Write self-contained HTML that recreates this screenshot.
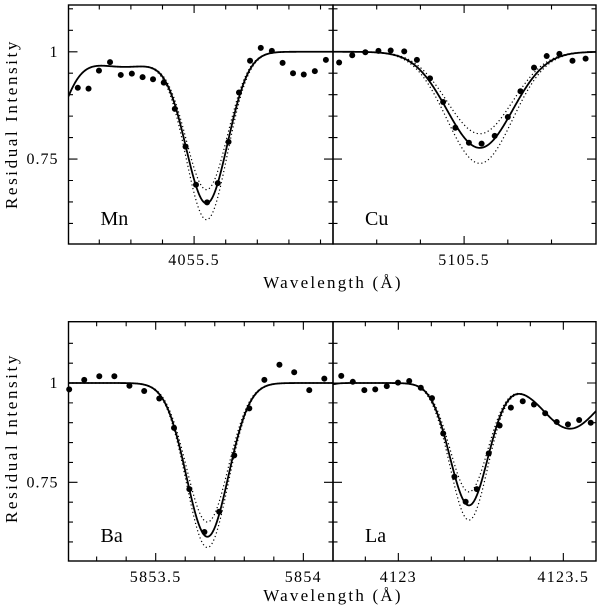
<!DOCTYPE html>
<html><head><meta charset="utf-8">
<style>
html,body{margin:0;padding:0;background:#fff;}
svg{display:block;}
text{font-family:"Liberation Serif","DejaVu Serif",serif;fill:#000;}
</style></head>
<body>
<svg id="fig" width="600" height="605" viewBox="0 0 600 605" xmlns="http://www.w3.org/2000/svg"></svg>
<script>
// ---- Data ----
const mnWave = [4055.132,4055.166,4055.199,4055.234,4055.268,4055.303,4055.337,4055.370,4055.404,4055.439,4055.473,4055.506,4055.541,4055.575,4055.609,4055.642,4055.677,4055.711,4055.746,4055.780,4055.813,4055.847,4055.882,4055.917];
const mnFlux = [0.916,0.914,0.956,0.976,0.946,0.949,0.941,0.936,0.928,0.867,0.779,0.690,0.649,0.694,0.790,0.905,0.979,1.009,1.002,0.974,0.950,0.947,0.955,0.981];
const cuWave = [5105.214,5105.244,5105.274,5105.304,5105.332,5105.363,5105.392,5105.422,5105.452,5105.480,5105.511,5105.540,5105.570,5105.600,5105.629,5105.660,5105.689,5105.718,5105.748,5105.778];
const cuFlux = [0.975,0.992,0.999,1.002,1.003,1.001,0.981,0.938,0.883,0.823,0.788,0.786,0.804,0.848,0.908,0.963,0.990,0.995,0.979,0.984];
const baWave = [5853.207,5853.258,5853.309,5853.360,5853.411,5853.461,5853.512,5853.562,5853.614,5853.665,5853.715,5853.766,5853.817,5853.868,5853.919,5853.969,5854.020,5854.071];
const baFlux = [0.984,1.008,1.017,1.017,0.993,0.980,0.961,0.887,0.733,0.625,0.676,0.818,0.936,1.008,1.046,1.027,0.982,1.011];
const laWave = [4122.827,4122.862,4122.897,4122.930,4122.965,4122.999,4123.033,4123.068,4123.102,4123.136,4123.170,4123.204,4123.238,4123.274,4123.307,4123.341,4123.377,4123.411,4123.445,4123.480,4123.514,4123.548,4123.583];
const laFlux = [1.018,1.003,0.982,0.984,0.992,1.001,1.005,0.988,0.962,0.873,0.764,0.701,0.733,0.823,0.893,0.938,0.954,0.946,0.924,0.902,0.896,0.907,0.900];
// model line components: [center, depth, sigma]; main line depths: best, weaker, stronger
const mnLines = [[4055.0,0.27,0.07],[4055.28,0.035,0.12]];
const mnMain = [4055.54,0.066];
const mnDepths = [0.350,0.318,0.388];
const cuLines = [];
const cuMain = [5105.536,0.075];
const cuDepths = [0.224,0.191,0.260];
const baLines = [];
const baMain = [5853.675,0.071];
const baDepths = [0.387,0.350,0.414];
const laLines = [[4123.52,0.115,0.08],[4122.75,0.015,0.03]];
const laMain = [4123.214,0.0575];
const laDepths = [0.308,0.274,0.345];
// axis ticks
const mnMajor=[4055.5], mnMinor=[4055.2,4055.3,4055.4,4055.6,4055.7,4055.8,4055.9];
const cuMajor=[5105.5], cuMinor=[5105.3,5105.4,5105.6,5105.7];
const baMajor=[5853.5,5854], baMinor=[5853.3,5853.4,5853.6,5853.7,5853.8,5853.9,5854.0];
const laMajor=[4123,4123.5], laMinor=[4122.9,4123.1,4123.2,4123.3,4123.4];
const yMajor=[0.75,1], yMinor=[0.6,0.65,0.7,0.8,0.85,0.9,0.95,1.05,1.1];
const yLabels=["0.75","1"];

const NS="http://www.w3.org/2000/svg";
const svg=document.getElementById('fig');
function mk(tag,attrs,parent){const e=document.createElementNS(NS,tag);for(const k in attrs)e.setAttribute(k,attrs[k]);(parent||svg).appendChild(e);return e;}

const panels=[
 {name:'mn',label:'Mn',x0:68.5,x1:333,y0:5,y1:244,w0:4055.1026,w1:4055.9395,v0:0.552,v1:1.109,wave:mnWave,flux:mnFlux,lines:mnLines,main:mnMain,depths:mnDepths,major:mnMajor,minor:mnMinor,left:true},
 {name:'cu',label:'Cu',x0:333,x1:596,y0:5,y1:244,w0:5105.2,w1:5105.8018,v0:0.552,v1:1.109,wave:cuWave,flux:cuFlux,lines:cuLines,main:cuMain,depths:cuDepths,major:cuMajor,minor:cuMinor,left:false},
 {name:'ba',label:'Ba',x0:68.5,x1:333,y0:321.7,y1:561,w0:5853.2047,w1:5854.1004,v0:0.552,v1:1.1543,wave:baWave,flux:baFlux,lines:baLines,main:baMain,depths:baDepths,major:baMajor,minor:baMinor,left:true},
 {name:'la',label:'La',x0:333,x1:596,y0:321.7,y1:561,w0:4122.802,w1:4123.599,v0:0.552,v1:1.1543,wave:laWave,flux:laFlux,lines:laLines,main:laMain,depths:laDepths,major:laMajor,minor:laMinor,left:false}
];

panels.forEach(p=>{
  const sx=w=>p.x0+(w-p.w0)/(p.w1-p.w0)*(p.x1-p.x0);
  const sy=v=>p.y1-(v-p.v0)/(p.v1-p.v0)*(p.y1-p.y0);
  const g=mk('g',{});
  
  
  const cid='clip-'+p.name;
  const cp=mk('clipPath',{id:cid},g);
  mk('rect',{x:p.x0,y:p.y0,width:p.x1-p.x0,height:p.y1-p.y0},cp);
  function model(w,d){
    let f=1-d*Math.exp(-Math.pow(w-p.main[0],2)/(2*p.main[1]*p.main[1]));
    p.lines.forEach(l=>{f-=l[1]*Math.exp(-Math.pow(w-l[0],2)/(2*l[2]*l[2]));});
    return f;
  }
  const styles=[{sw:1.8,da:null,n:'best-fit-curve'},{sw:1.2,da:'1.2 2.6',n:'lower-abundance-curve'},{sw:1.2,da:'1.2 2.6',n:'higher-abundance-curve'}];
  p.depths.forEach((d,i)=>{
    let pts=[];
    for(let k=0;k<=400;k++){const w=p.w0+(p.w1-p.w0)*k/400;pts.push(sx(w).toFixed(2)+','+sy(model(w,d)).toFixed(2));}
    const a={points:pts.join(' '),fill:'none',stroke:'#000','stroke-width':styles[i].sw,'clip-path':'url(#'+cid+')','stroke-linejoin':'round'};
    if(styles[i].da)a['stroke-dasharray']=styles[i].da;
    const pl=mk('polyline',a,g);
    
    
  });
  p.wave.forEach((w,i)=>{
    const c=mk('circle',{cx:sx(w).toFixed(2),cy:sy(p.flux[i]).toFixed(2),r:3,fill:'#000'},g);
    
    
  });
  const fr=mk('rect',{x:p.x0,y:p.y0,width:p.x1-p.x0,height:p.y1-p.y0,fill:'none',stroke:'#000','stroke-width':1.4},g);
  
  
  let d='';
  p.major.forEach(w=>{const x=sx(w);d+=`M${x},${p.y1}v-8M${x},${p.y0}v8`;});
  p.minor.forEach(w=>{const x=sx(w);d+=`M${x},${p.y1}v-4.5M${x},${p.y0}v4.5`;});
  yMajor.forEach(v=>{const y=sy(v);d+=`M${p.x0},${y}h9M${p.x1},${y}h-9`;});
  yMinor.forEach(v=>{if(v<p.v1){const y=sy(v);d+=`M${p.x0},${y}h4.5M${p.x1},${y}h-4.5`;}});
  const tk=mk('path',{d:d,stroke:'#000','stroke-width':1.1,fill:'none'},g);
  
  
  p.major.forEach(w=>{
    const t=mk('text',{x:sx(w),y:p.y1+21,'font-size':16,'text-anchor':'middle','letter-spacing':'1.3'},g);
    t.textContent=String(w);
    
    
  });
  if(p.left){
    yMajor.forEach((v,i)=>{
      const t=mk('text',{x:p.x0-10,y:sy(v)+5,'font-size':16,'text-anchor':'end','letter-spacing':'1'},g);
      t.textContent=yLabels[i];
      
      
    });
  }
  const lb=mk('text',{x:p.x0+32,y:p.y1-19,'font-size':20},g);
  lb.textContent=p.label;
  
  
});

[[124,'top'],[438,'bottom']].forEach(([cy,n])=>{
  const t=mk('text',{x:0,y:0,'font-size':17,'text-anchor':'middle','letter-spacing':'2.6',transform:`translate(17,${cy}) rotate(-90)`});
  t.textContent='Residual Intensity';
  
  
});
[[288,'top'],[601,'bottom']].forEach(([y,n])=>{
  const t=mk('text',{x:333,y:y,'font-size':17,'text-anchor':'middle','letter-spacing':'2.2'});
  t.textContent='Wavelength (Å)';
  
  
});
</script>
</body></html>
